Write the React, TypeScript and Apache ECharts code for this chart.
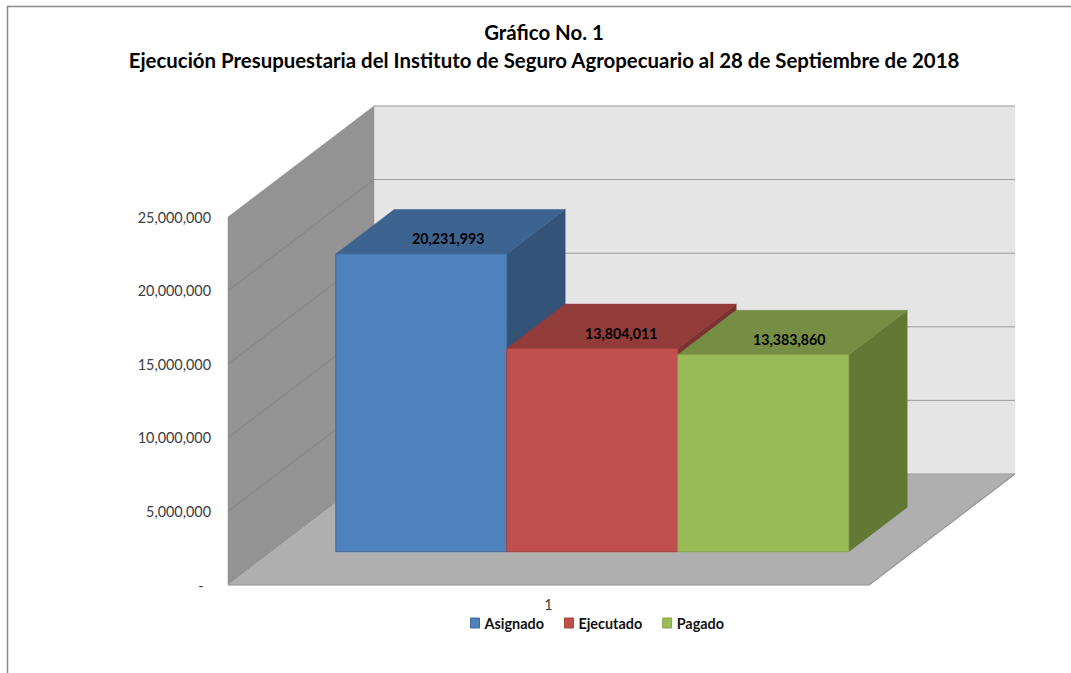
import React, { useEffect, useRef } from "react";
import * as echarts from "echarts";

const titleLines = [
  "Gráfico No. 1",
  "Ejecución Presupuestaria del Instituto de Seguro Agropecuario al 28 de Septiembre de 2018",
];
const categories = ["1"];
const seriesNames = ["Asignado", "Ejecutado", "Pagado"];
const seriesValues = [20231993, 13804011, 13383860];
const valueLabels = ["20,231,993", "13,804,011", "13,383,860"];
const yTicks = [0, 5000000, 10000000, 15000000, 20000000, 25000000];
const frontColors = ["#4F81BD", "#C0504D", "#9BBB59"];
const edgeColors = ["#41699A", "#A5413E", "#87A34C"];
const topColors = ["#3D6390", "#923C3A", "#768E44"];
const sideColors = ["#335379", "#7A3230", "#647836"];

const FONT = "Lato";
const DEPTH_X = 146;
const DEPTH_Y = 111;
const BAR_FRONT = 0.3;
const BAR_DEPTH = 0.4;
const BAR_BAND_RATIO = 171 / 641;
const LABEL_DX = [27, 29, 26];
const LABEL_DY = -15.5;

const fmt = (v: number) => (v === 0 ? "-  " : v.toLocaleString("en-US"));

function poly(points: number[][], fill: string, stroke?: string, lineWidth = 1) {
  return {
    type: "polygon",
    shape: { points },
    style: { fill, stroke: stroke || fill, lineWidth },
  };
}

function line(a: number[], b: number[], stroke: string, lineWidth = 1) {
  return {
    type: "line",
    shape: { x1: a[0], y1: a[1], x2: b[0], y2: b[1] },
    style: { stroke, lineWidth },
  };
}

function renderScene(_: any, api: any) {
  const band = api.size([1, 0])[0];
  const mid = api.coord([0, yTicks[0]]);
  const left = mid[0] - band / 2;
  const right = mid[0] + band / 2;
  const y0 = mid[1];
  const yTop = api.coord([0, yTicks[yTicks.length - 1]])[1];
  const children: any[] = [
    poly(
      [[left + DEPTH_X, yTop - DEPTH_Y], [right + DEPTH_X, yTop - DEPTH_Y], [right + DEPTH_X, y0 - DEPTH_Y], [left + DEPTH_X, y0 - DEPTH_Y]],
      "#E5E5E5",
      "#E5E5E5",
      0.5
    ),
    poly(
      [[left, yTop], [left + DEPTH_X, yTop - DEPTH_Y], [left + DEPTH_X, y0 - DEPTH_Y], [left, y0]],
      "#939393",
      "#939393",
      0.5
    ),
    poly(
      [[left, y0], [right, y0], [right + DEPTH_X, y0 - DEPTH_Y], [left + DEPTH_X, y0 - DEPTH_Y]],
      "#AFAFAF",
      "#AFAFAF",
      0.5
    ),
  ];
  yTicks.slice(1).forEach((t) => {
    const y = api.coord([0, t])[1];
    const yb = y - DEPTH_Y;
    children.push(line([left + DEPTH_X, yb], [right + DEPTH_X, yb], "#9C9C9C", 1));
    if (t !== yTicks[yTicks.length - 1]) {
      children.push(line([left, y], [left + DEPTH_X, yb], "#858585", 1));
    }
  });
  children.push(line([left, y0], [right, y0], "#979797", 1.2));
  children.push(line([right, y0], [right + DEPTH_X, y0 - DEPTH_Y], "#979797", 1.2));
  children.push(line([left + DEPTH_X, y0 - DEPTH_Y], [right + DEPTH_X, y0 - DEPTH_Y], "#A3A3A3", 1));
  return { type: "group", children };
}

function makeBarRenderer(i: number) {
  return (_: any, api: any) => {
    const band = api.size([1, 0])[0];
    const w = band * BAR_BAND_RATIO;
    const top = api.coord([0, api.value(1)]);
    const base = api.coord([0, 0]);
    const fx = DEPTH_X * BAR_FRONT;
    const fy = DEPTH_Y * BAR_FRONT;
    const dx = DEPTH_X * BAR_DEPTH;
    const dy = DEPTH_Y * BAR_DEPTH;
    const x0 = base[0] + fx + (i - seriesNames.length / 2) * w;
    const x1 = x0 + w;
    const yb = base[1] - fy;
    const yt = top[1] - fy;
    return {
      type: "group",
      children: [
        poly([[x1, yt], [x1 + dx, yt - dy], [x1 + dx, yb - dy], [x1, yb]], sideColors[i], sideColors[i], 0.5),
        poly([[x0, yt], [x0 + dx, yt - dy], [x1 + dx, yt - dy], [x1, yt]], topColors[i], topColors[i], 0.5),
        poly([[x0, yt], [x1, yt], [x1, yb], [x0, yb]], frontColors[i], edgeColors[i], 1),
        {
          type: "text",
          style: {
            x: (x0 + x1) / 2 + LABEL_DX[i],
            y: yt + LABEL_DY,
            text: valueLabels[i],
            align: "center",
            verticalAlign: "middle",
            fill: "#000000",
            font: `bold 14.2px ${FONT}`,
          },
        },
      ],
    };
  };
}

export default function App() {
  const ref = useRef<HTMLDivElement>(null);
  useEffect(() => {
    document.body.style.margin = "0";
    const chart = echarts.init(ref.current!, undefined, { renderer: "svg" });
    chart.setOption({
      animation: false,
      backgroundColor: "#FFFFFF",
      title: {
        text: titleLines.join("\n"),
        left: 539,
        top: 13,
        textAlign: "center",
        textStyle: { fontFamily: FONT, fontWeight: "bold", fontSize: 20.4, lineHeight: 28, color: "#000000" },
      },
      graphic: [
        {
          type: "polyline",
          shape: { points: [[7.5, 673], [7.5, 6.5], [1071, 6.5]] },
          style: { stroke: "#8A8A8A", lineWidth: 1.5, fill: "none" },
        },
      ],
      legend: {
        left: 465,
        top: 611,
        itemWidth: 9,
        itemHeight: 10,
        itemGap: 20,
        selectedMode: false,
        icon: "rect",
        textStyle: { fontFamily: FONT, fontWeight: "bold", fontSize: 14.4, color: "#111111" },
        data: seriesNames.map((name, i) => ({
          name,
          itemStyle: { color: frontColors[i], borderColor: edgeColors[i], borderWidth: 1 },
        })),
      },
      grid: { left: 228, top: 217, width: 641, height: 368 },
      xAxis: {
        type: "category",
        data: categories,
        axisLine: { show: false },
        axisTick: { show: false },
        axisLabel: { margin: 12, fontFamily: FONT, fontSize: 14.4, color: "#404040" },
      },
      yAxis: {
        type: "value",
        min: 0,
        max: 25000000,
        interval: 5000000,
        axisLine: { show: false },
        axisTick: { show: false },
        splitLine: { show: false },
        axisLabel: { margin: 17, fontFamily: FONT, fontSize: 14.4, color: "#404040", padding: [3, 0, 0, 0], formatter: fmt },
      },
      series: [
        { type: "custom", name: "scene", silent: true, z: 1, renderItem: renderScene, data: [[0, 0]] },
        ...seriesNames.map((name, i) => ({
          type: "custom",
          name,
          silent: true,
          z: 2 + i,
          itemStyle: { color: frontColors[i] },
          renderItem: makeBarRenderer(i),
          encode: { x: 0, y: 1 },
          data: [[0, seriesValues[i]]],
        })),
      ],
    });
    return () => chart.dispose();
  }, []);
  return <div ref={ref} style={{ width: 1071, height: 673 }} />;
}
